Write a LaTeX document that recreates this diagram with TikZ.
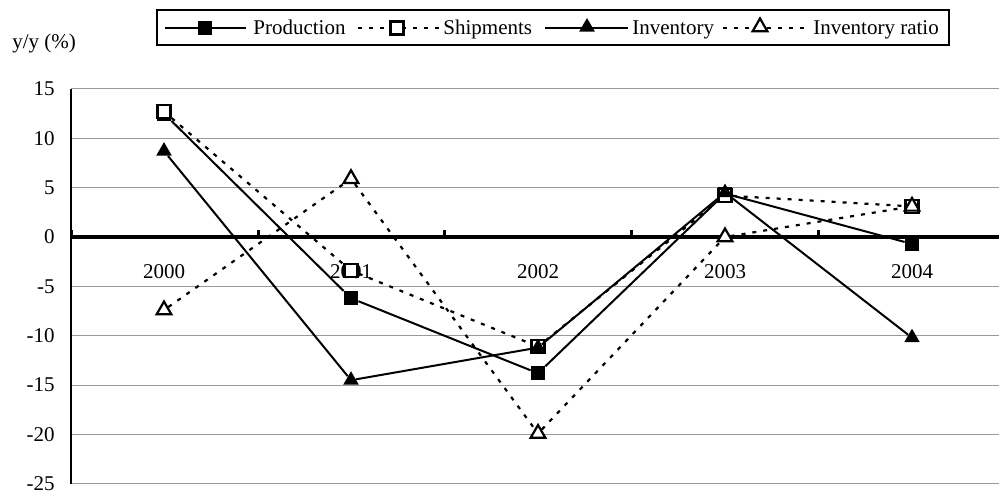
\documentclass[tikz,border=0pt]{standalone}
\usepackage{fontspec}
\setmainfont{Liberation Serif}
\usetikzlibrary{positioning, shapes.geometric}

\begin{document}
\begin{tikzpicture}[
  x=0.5pt, y=0.5pt,
  lab/.style={font=\fontsize{10.5}{12}\selectfont, inner sep=0pt},
  gridline/.style={draw=black!40, line width=0.6pt},
  solidser/.style={line width=1pt},
  dotser/.style={line width=1.1pt, dash pattern=on 2pt off 3.5pt},
  fsq/.style={rectangle, fill=black, minimum size=7pt, inner sep=0pt},
  osq/.style={rectangle, draw=black, fill=white, line width=1.2pt, minimum size=6.5pt, inner sep=0pt},
  ftri/.style={regular polygon, regular polygon sides=3, fill=black, minimum size=9pt, inner sep=0pt},
  otri/.style={regular polygon, regular polygon sides=3, draw=black, fill=white, line width=1.1pt, minimum size=8.5pt, inner sep=0pt},
]
  \useasboundingbox (0,0) rectangle (999,495);

  \node[lab, anchor=west] (unit) at (12,452) {y/y (\%)};

  % legend
  \draw[line width=0.6pt] (157,450) rectangle (949,485);
  \coordinate (lp0) at (165,467); \coordinate (lp1) at (246,467);
  \draw[solidser] (lp0) -- (lp1);
  \node[fsq] (lpm) at (205,467) {};
  \node[lab, anchor=base west] (lprod) at (253,461) {Production};
  \coordinate (ls0) at (358,467); \coordinate (ls1) at (440,467);
  \draw[dotser] (ls0) -- (ls1);
  \node[osq] (lsm) at (397,467) {};
  \node[lab, anchor=base west] (lship) at (443,461) {Shipments};
  \coordinate (li0) at (545,467); \coordinate (li1) at (628,467);
  \draw[solidser] (li0) -- (li1);
  \node[ftri] (lim) at (587,468) {};
  \node[lab, anchor=base west] (linv) at (632,461) {Inventory};
  \coordinate (lr0) at (723,467); \coordinate (lr1) at (808,467);
  \draw[dotser] (lr0) -- (lr1);
  \node[otri] (lrm) at (760,468) {};
  \node[lab, anchor=base west] (lratio) at (813,461) {Inventory ratio};

  \begin{scope}[yshift=129pt, y=4.9375pt]
    % grid and value labels
    \foreach \v in {15,10,5,-5,-10,-15,-20,-25} {
      \draw[gridline] (71,\v) -- (999,\v);
      \node[lab, anchor=east] (v\v) at (55,\v) {\v};
    }
    \node[lab, anchor=east] (v0) at (55,0) {0};
    \draw[line width=0.7pt] (71,15) -- (71,-25);
    \draw[line width=2pt] (71,0) -- (999,0);
    \foreach \x in {71,258,444,631,818}
      \draw[line width=1.5pt] (\x,0) -- (\x,0.7);
    \foreach \yr/\x in {2000/164,2001/351,2002/538,2003/725,2004/912}
      \node[lab] (yr\yr) at (\x,-3.5) {\yr};

    % Production
    \foreach \i/\x/\v in {1/164/12.5,2/351/-6.2,3/538/-13.8,4/725/4.4,5/912/-0.7}
      \node[fsq] (p\i) at (\x,\v) {};
    \draw[solidser] (p1) -- (p2) -- (p3) -- (p4) -- (p5);

    % Shipments
    \foreach \i/\x/\v in {1/164/12.7,2/351/-3.4,3/538/-11.1,4/725/4.2,5/912/3.1}
      \node[osq] (s\i) at (\x,\v) {};
    \draw[dotser] (s1) -- (s2) -- (s3) -- (s4) -- (s5);

    % Inventory
    \foreach \i/\x/\v in {1/164/8.7,2/351/-14.5,3/538/-11.2,4/725/4.5,5/912/-10.2}
      \node[ftri] (n\i) at (\x,\v) {};
    \draw[solidser] (n1) -- (n2) -- (n3) -- (n4) -- (n5);

    % Inventory ratio
    \foreach \i/\x/\v in {1/164/-7.4,2/351/5.9,3/538/-19.9,4/725/0,5/912/3.1}
      \node[otri] (r\i) at (\x,\v) {};
    \draw[dotser] (r1) -- (r2) -- (r3) -- (r4) -- (r5);
  \end{scope}
\end{tikzpicture}
\end{document}
